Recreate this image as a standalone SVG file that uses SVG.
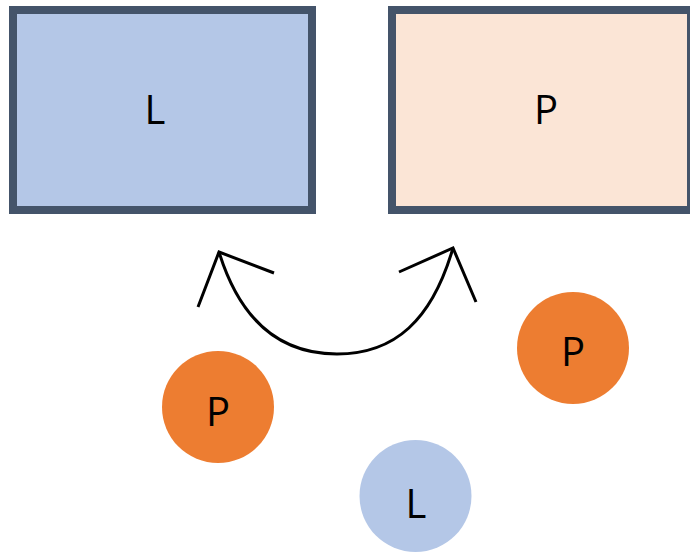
<svg xmlns="http://www.w3.org/2000/svg" width="690" height="553" viewBox="0 0 690 553">
<style>
.box{stroke:#44546A;stroke-width:8}
.lbl{font-family:"Open Sans","Liberation Sans",sans-serif;font-size:40px;fill:#000;text-anchor:middle}
.conn{fill:none;stroke:#000;stroke-width:3;stroke-linecap:butt;stroke-linejoin:miter}
</style>
<rect width="690" height="553" fill="#fff"/>
<g id="boxL">
<rect class="box" x="13" y="10" width="299" height="200" fill="#B4C7E7"/>
<text class="lbl" x="155" y="124">L</text>
</g>
<g id="boxP">
<rect class="box" x="392" y="10" width="299" height="200" fill="#FBE5D6"/>
<text class="lbl" x="546" y="124">P</text>
</g>
<g id="circP1">
<circle cx="218" cy="407" r="56" fill="#ED7D31"/>
<text class="lbl" x="218" y="426">P</text>
</g>
<g id="circP2">
<circle cx="573" cy="348" r="56" fill="#ED7D31"/>
<text class="lbl" x="573" y="366">P</text>
</g>
<g id="circL">
<circle cx="415.5" cy="496" r="56" fill="#B4C7E7"/>
<text class="lbl" x="416" y="518">L</text>
</g>
<g id="connectors">
<path class="conn" d="M219,252 C240,320 280,354 337,354 C395,354 432,320 453,248"/>
<polyline class="conn" points="198,307 219,252 274,273"/>
<polyline class="conn" points="399,272 453,248 476,302"/>
</g>
</svg>
